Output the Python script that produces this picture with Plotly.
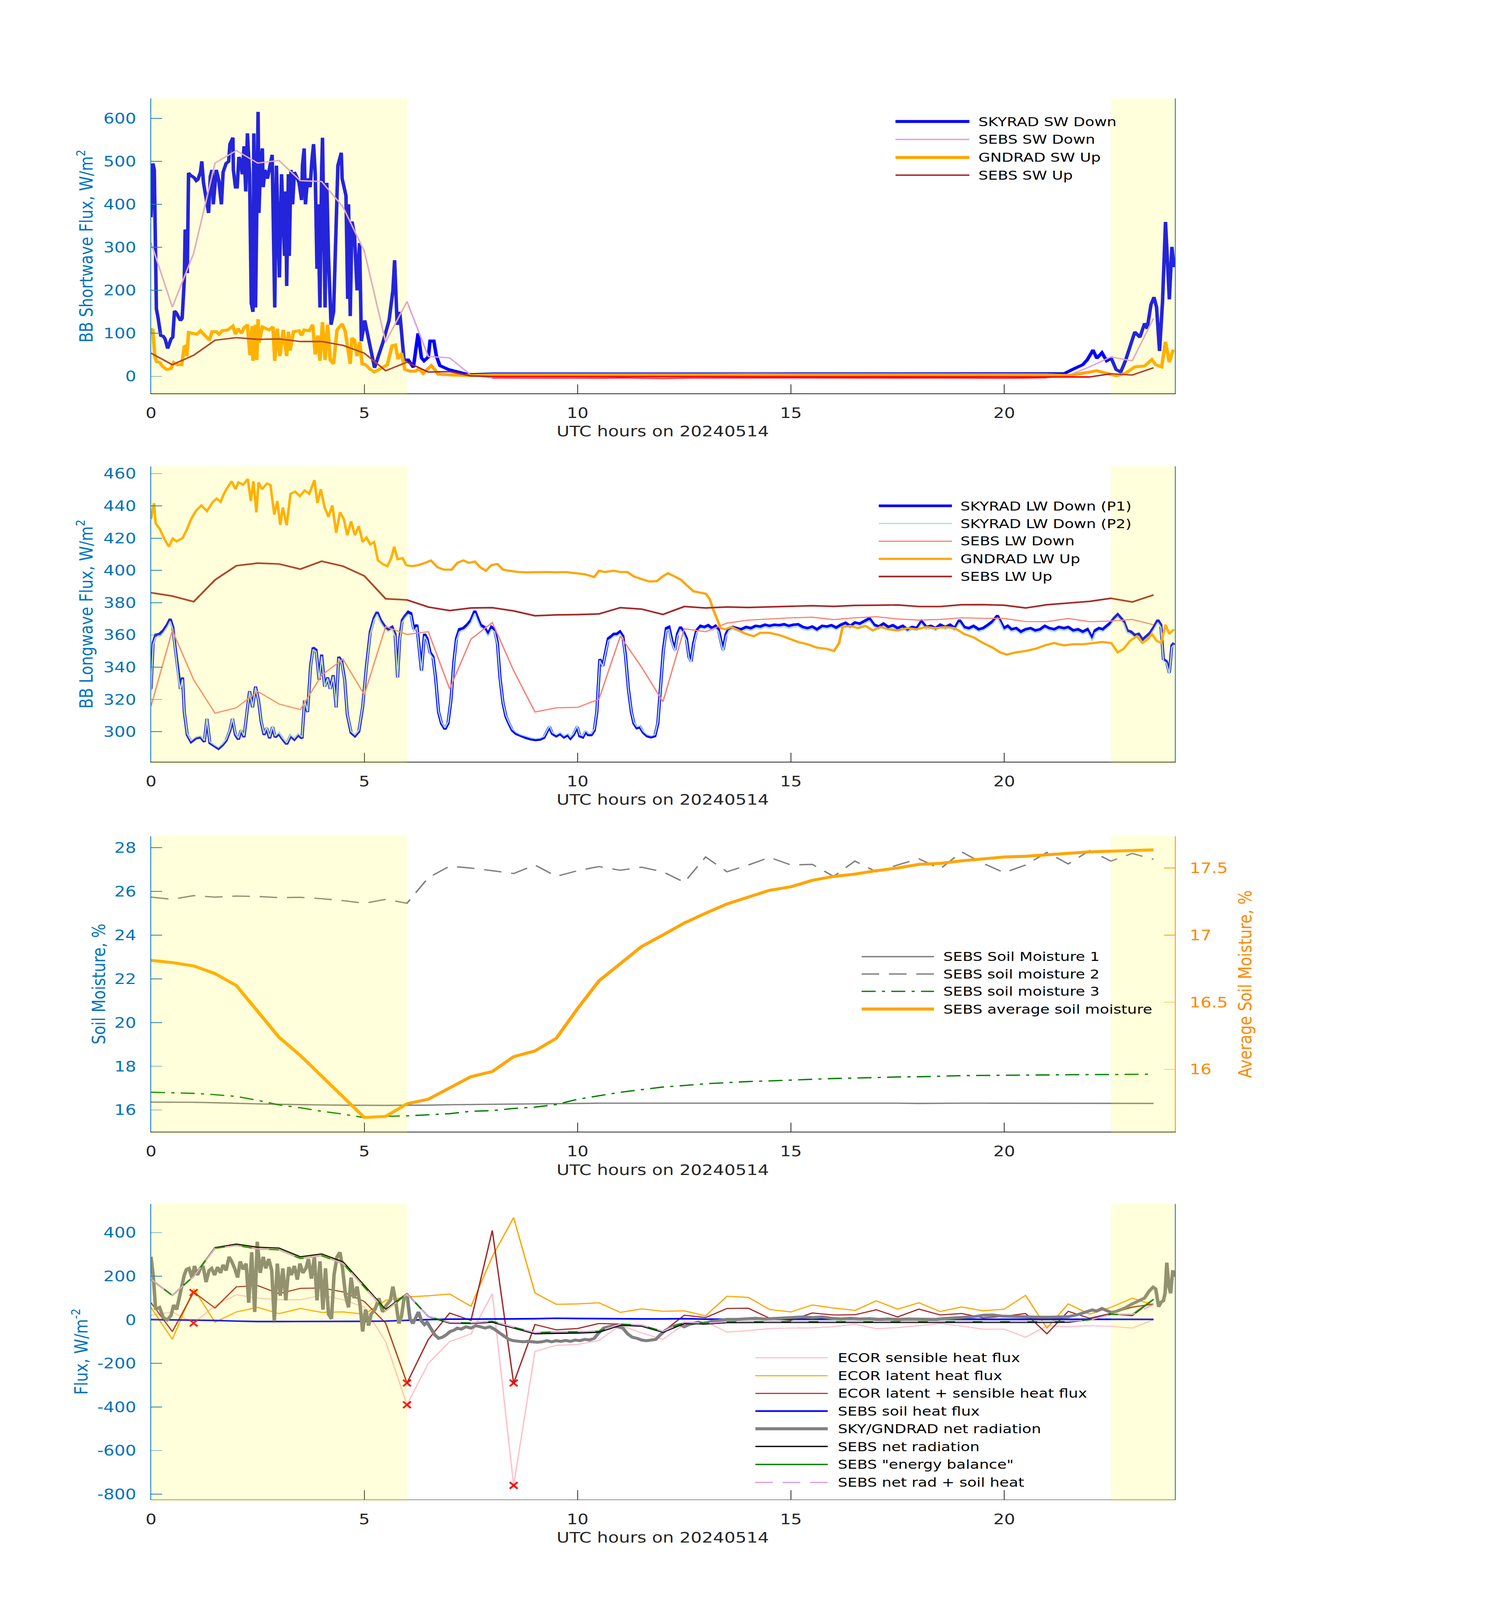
import plotly.graph_objects as go

# ---------------- data ----------------
# half-hourly SEBS / ECOR / soil time stamps, UTC hours
sebs_t = [0.0, 0.5, 1.0, 1.5, 2.0, 2.5, 3.0, 3.5, 4.0, 4.5, 5.0, 5.5, 6.0, 6.5, 7.0, 7.5,
          8.0, 8.5, 9.0, 9.5, 10.0, 10.5, 11.0, 11.5, 12.0, 12.5, 13.0, 13.5, 14.0, 14.5, 15.0, 15.5,
          16.0, 16.5, 17.0, 17.5, 18.0, 18.5, 19.0, 19.5, 20.0, 20.5, 21.0, 21.5, 22.0, 22.5, 23.0, 23.5]

# panel 1: shortwave
sw_t = [0.0, 0.045, 0.077, 0.126, 0.167, 0.228, 0.289, 0.33, 0.39, 0.43,
        0.47, 0.51, 0.55, 0.59, 0.64, 0.69, 0.73, 0.78, 0.80, 0.83,
        0.85, 0.88, 0.92, 1.01, 1.06, 1.10, 1.16, 1.19, 1.23, 1.27,
        1.32, 1.35, 1.39, 1.43, 1.46, 1.53, 1.59, 1.65, 1.69, 1.76,
        1.82, 1.85, 1.92, 1.93, 1.98, 2.02, 2.06, 2.10, 2.14, 2.18,
        2.22, 2.26, 2.31, 2.35, 2.39, 2.41, 2.45, 2.51, 2.53, 2.57,
        2.61, 2.63, 2.67, 2.73, 2.79, 2.84, 2.90, 2.94, 3.01, 3.06,
        3.13, 3.16, 3.18, 3.22, 3.24, 3.28, 3.32, 3.36, 3.43, 3.47,
        3.53, 3.55, 3.59, 3.62, 3.67, 3.73, 3.77, 3.81, 3.85, 3.89,
        3.91, 3.96, 4.00, 4.02, 4.08, 4.12, 4.16, 4.22, 4.28, 4.38,
        4.46, 4.48, 4.57, 4.59, 4.61, 4.63, 4.67, 4.71, 4.77, 4.83,
        4.89, 4.91, 4.93, 5.01, 5.10, 5.24, 5.34, 5.44, 5.58, 5.67,
        5.71, 5.77, 5.83, 5.93, 6.03, 6.15, 6.26, 6.34, 6.40, 6.50,
        6.54, 6.63, 6.69, 6.77, 6.97, 7.20, 7.40, 7.52, 8.0, 9.0,
        10.0, 11.0, 12.0, 13.0, 14.0, 15.0, 16.0, 17.0, 18.0, 19.0,
        20.0, 21.0, 21.4, 21.6, 21.84, 21.95, 22.08, 22.17, 22.29, 22.4,
        22.51, 22.62, 22.73, 22.84, 22.95, 23.06, 23.18, 23.29, 23.35, 23.44,
        23.51, 23.57, 23.64, 23.71, 23.78, 23.87, 23.93, 23.98]
skyrad_sw_dn = [370, 495, 480, 157, 135, 95, 93, 87, 65, 78,
                87, 91, 152, 148, 140, 130, 135, 223, 341, 335,
                240, 473, 468, 462, 455, 458, 475, 500, 450, 430,
                400, 380, 465, 480, 400, 480, 455, 400, 475, 495,
                500, 540, 555, 480, 440, 440, 510, 500, 470, 535,
                430, 565, 470, 170, 150, 565, 160, 615, 380, 500,
                530, 440, 480, 460, 490, 515, 160, 490, 230, 470,
                280, 430, 210, 470, 280, 480, 400, 475, 460, 450,
                410, 490, 530, 400, 460, 440, 500, 540, 470, 250,
                400, 160, 480, 555, 160, 450, 280, 120, 150, 490,
                520, 460, 420, 200, 180, 400, 140, 360, 330, 200,
                310, 200, 82, 130, 85, 20, 50, 80, 130, 200,
                270, 120, 150, 38, 38, 21, 100, 43, 36, 45,
                82, 82, 47, 25, 16, 10, 5, 4, 5.5, 5.5,
                5.5, 5.5, 5.5, 5.5, 5.5, 5.5, 5.5, 5.5, 5.5, 5.5,
                5.5, 5.5, 6, 16, 27, 39, 61, 42, 55, 36,
                42, 16, 10, 36, 68, 103, 91, 123, 111, 167,
                184, 161, 59, 173, 359, 179, 301, 254]

gsw_t = [0.01, 0.04, 0.09, 0.13, 0.21, 0.27, 0.37, 0.47, 0.53, 0.62,
         0.72, 0.78, 0.82, 0.84, 0.88, 1.02, 1.08, 1.16, 1.23, 1.31,
         1.37, 1.43, 1.53, 1.59, 1.67, 1.80, 1.92, 1.98, 2.04, 2.12,
         2.18, 2.26, 2.32, 2.37, 2.39, 2.45, 2.48, 2.51, 2.53, 2.61,
         2.67, 2.77, 2.86, 2.90, 2.96, 3.02, 3.10, 3.18, 3.22, 3.26,
         3.34, 3.47, 3.53, 3.59, 3.71, 3.79, 3.85, 3.91, 3.96, 4.02,
         4.08, 4.14, 4.20, 4.28, 4.36, 4.48, 4.55, 4.61, 4.67, 4.71,
         4.77, 4.83, 4.89, 4.95, 5.03, 5.14, 5.24, 5.38, 5.54, 5.65,
         5.73, 5.79, 5.87, 5.95, 6.07, 6.20, 6.28, 6.38, 6.50, 6.57,
         6.65, 6.73, 7.08, 7.48, 8.0, 9.0, 10.0, 11.0, 12.0, 13.0,
         14.0, 15.0, 16.0, 17.0, 18.0, 19.0, 20.0, 21.0, 21.5, 21.95,
         22.17, 22.4, 22.62, 22.84, 23.06, 23.29, 23.46, 23.55, 23.69, 23.78,
         23.87, 23.96]
gndrad_sw_up = [108, 110, 47, 34, 32, 23, 16, 18, 32, 27,
                27, 69, 71, 47, 102, 100, 98, 106, 98, 89,
                84, 104, 104, 98, 106, 108, 117, 98, 111, 100,
                113, 120, 49, 117, 36, 120, 38, 133, 78, 115,
                113, 108, 115, 36, 111, 47, 108, 47, 104, 60,
                104, 106, 95, 108, 106, 120, 51, 95, 36, 126,
                38, 120, 38, 29, 108, 122, 106, 73, 29, 89,
                84, 47, 80, 29, 27, 16, 10, 18, 27, 71,
                73, 40, 54, 16, 12, 12, 18, 7, 20, 25,
                16, 5, 3, 2, 3.5, 3.2, 3.8, 3.4, 3.6, 3.5,
                3.9, 3.6, 3.7, 3.4, 3.8, 3.5, 3.7, 3.6, 2, 9,
                13, 7, 1, 7, 22, 24, 39, 27, 22, 80,
                33, 62]

sebs_sw_dn = [311, 161, 286, 496, 525, 496, 502, 455, 453, 394,
              291, 80, 174, 46, 43, 3, -4.0, -4.2, -4.5, -4.6,
              -4.6, -4.5, -3.8, -4.3, -5.2, -4.2, -4.0, -4.0, -3.9, -3.8,
              -3.8, -3.7, -3.8, -4.0, -4.4, -4.2, -4.0, -4.1, -4.3, -4.3,
              -4.8, -4.2, -3.5, 2, 22, 45, 36, 135]
sebs_sw_up = [54, 27, 49, 84, 90, 86, 87, 81, 81, 72,
              54, 13, 33, 10, 11, 1, -0.6, -0.8, -0.9, -1.0,
              -1.0, -0.9, -0.8, -0.8, -1.0, -0.9, -0.8, -0.8, -0.7, -0.7,
              -0.8, -0.8, -0.7, -0.8, -0.9, -0.8, -0.8, -0.9, -0.9, -0.8,
              -1.0, -0.9, -0.8, -1.2, -1.5, 6, 3, 20]

# panel 2: longwave
lw_t = [0.0, 0.05, 0.11, 0.2, 0.29, 0.38, 0.45, 0.51, 0.58, 0.65,
        0.69, 0.74, 0.78, 0.85, 0.94, 1.05, 1.16, 1.25, 1.31, 1.38,
        1.49, 1.58, 1.67, 1.76, 1.85, 1.91, 1.98, 2.05, 2.11, 2.18,
        2.25, 2.31, 2.38, 2.45, 2.52, 2.58, 2.65, 2.71, 2.78, 2.85,
        2.91, 3.0, 3.09, 3.18, 3.27, 3.36, 3.45, 3.54, 3.6, 3.67,
        3.74, 3.8, 3.87, 3.94, 4.0, 4.07, 4.14, 4.2, 4.27, 4.34,
        4.4, 4.47, 4.54, 4.6, 4.69, 4.78, 4.87, 4.96, 5.05, 5.14,
        5.23, 5.3, 5.38, 5.47, 5.56, 5.65, 5.72, 5.78, 5.83, 5.89,
        5.96, 6.03, 6.09, 6.16, 6.23, 6.29, 6.34, 6.41, 6.47, 6.54,
        6.61, 6.67, 6.74, 6.81, 6.89, 6.96, 7.03, 7.1, 7.16, 7.23,
        7.32, 7.41, 7.5, 7.59, 7.65, 7.72, 7.81, 7.9, 7.98, 8.05,
        8.12, 8.18, 8.25, 8.32, 8.39, 8.47, 8.56, 8.67, 8.78, 8.9,
        9.01, 9.12, 9.21, 9.28, 9.34, 9.41, 9.5, 9.59, 9.68, 9.77,
        9.83, 9.9, 9.99, 10.05, 10.12, 10.19, 10.25, 10.32, 10.39, 10.45,
        10.52, 10.59, 10.65, 10.72, 10.79, 10.85, 10.92, 10.99, 11.06, 11.12,
        11.19, 11.26, 11.32, 11.39, 11.46, 11.54, 11.63, 11.72, 11.81, 11.88,
        11.94, 12.01, 12.08, 12.14, 12.21, 12.28, 12.34, 12.41, 12.48, 12.55,
        12.61, 12.66, 12.72, 12.79, 12.88, 12.97, 13.06, 13.15, 13.23, 13.3,
        13.37, 13.41, 13.48, 13.55, 13.63, 13.72, 13.83, 13.95, 14.06, 14.17,
        14.28, 14.39, 14.5, 14.61, 14.73, 14.84, 14.95, 15.06, 15.17, 15.28,
        15.39, 15.5, 15.61, 15.73, 15.84, 15.95, 16.06, 16.17, 16.28, 16.39,
        16.5, 16.61, 16.73, 16.84, 16.95, 17.06, 17.17, 17.28, 17.39, 17.5,
        17.62, 17.73, 17.84, 17.95, 18.06, 18.17, 18.28, 18.39, 18.5, 18.62,
        18.73, 18.84, 18.95, 19.06, 19.17, 19.28, 19.4, 19.5, 19.62, 19.73,
        19.84, 19.9, 19.99, 20.08, 20.17, 20.28, 20.39, 20.5, 20.62, 20.73,
        20.84, 20.95, 21.06, 21.17, 21.28, 21.4, 21.5, 21.62, 21.73, 21.84,
        21.95, 22.06, 22.13, 22.22, 22.31, 22.4, 22.49, 22.58, 22.66, 22.73,
        22.8, 22.88, 22.97, 23.06, 23.15, 23.24, 23.33, 23.42, 23.51, 23.6,
        23.67, 23.73, 23.8, 23.87, 23.93, 23.98]
skyrad_lw_p1 = [326.5, 355, 360, 360.6, 362.8, 366.3, 369.9, 364.9, 349.2, 332.2,
                326.5, 333.6, 312.2, 298, 293.7, 295.9, 296.6, 293.7, 308, 293,
                290.9, 289.5, 291.6, 294.5, 300.8, 308, 298, 295.2, 300.8, 296.6,
                312.2, 325.1, 315.1, 327.9, 319.4, 306.5, 298, 302.3, 295.9, 303,
                296.6, 298.7, 295.2, 292.3, 297.3, 295.2, 298, 295.9, 319.4, 312.2,
                340.7, 352.1, 350.7, 332.2, 347.8, 327.9, 333.6, 326.5, 335, 315.1,
                346.4, 343.6, 332.2, 310.8, 299.4, 297.3, 300.1, 315.1, 340.7, 362,
                370.6, 374.2, 369.2, 365.6, 363.5, 364.9, 360.6, 333.6, 357.8, 369.2,
                372, 374.2, 373.4, 363.5, 366.3, 350.7, 337.9, 360.6, 357.8, 349.2,
                346.4, 333.6, 312.2, 305.1, 301.6, 305.1, 319.4, 343.6, 357.8, 363.5,
                364.2, 366.3, 369.2, 374.9, 370.6, 366.3, 364.9, 360.6, 364.9, 363.5,
                355, 333.6, 317.9, 309.4, 305.1, 300.8, 298.7, 297.3, 296.3, 295.4,
                294.9, 295.2, 296.3, 300.1, 303, 298.7, 297.3, 298.7, 296.6, 298,
                295.9, 298, 303, 297.3, 296.6, 300.1, 298, 298, 300.8, 312.2,
                345, 340.7, 349.2, 357.8, 359.2, 360.6, 360.6, 362, 359.2, 347.8,
                326.5, 312.2, 305.1, 302.3, 303, 299.4, 297.3, 296.6, 297.3, 305.1,
                326.5, 350.7, 364.2, 364.9, 356.4, 350.7, 360.6, 364.9, 362, 357.8,
                346.4, 343.6, 355, 362.8, 365.6, 364.9, 366, 364.2, 365.6, 363.5,
                355, 350.7, 360.6, 364.2, 364.9, 364.2, 363.5, 364.9, 364.2, 365.6,
                365.2, 366.3, 365.6, 366.3, 366, 366.6, 365.6, 366.3, 366.6, 364.9,
                364.2, 365.2, 363.5, 365.6, 365.2, 366, 364.6, 366.3, 367.5, 365.6,
                367.7, 367, 368.5, 370.3, 366.3, 365.2, 367, 364.9, 366, 364.2,
                365.6, 363.5, 364.9, 364.2, 368.5, 364.9, 365.6, 364.2, 366.3, 364.9,
                366.3, 364.2, 369.2, 364.9, 364.2, 365.6, 363.5, 364.2, 366.3, 368.5,
                372, 369.2, 364.2, 365.6, 363.5, 364.2, 362, 363.5, 364.2, 362.8,
                363.5, 365.6, 364.2, 363.5, 364.9, 364.2, 364.9, 362.8, 363.5, 362,
                363.5, 357.8, 362.8, 364.2, 363.5, 365.6, 367.5, 370.6, 372.7, 370.6,
                368.5, 362.8, 362, 359.9, 360.6, 357, 359.2, 361.3, 364.9, 369.2,
                366.3, 345, 343.6, 336.5, 353.5, 355]
skyrad_lw_p2 = [325, 354, 358.5, 359, 361.3, 364.8, 368.4, 363.4, 348, 331.5,
                326, 332.5, 312.5, 298.8, 294.5, 296.7, 297.4, 294.5, 308.5, 293.8,
                291.7, 290.3, 292.4, 295.3, 301.5, 308.6, 298.8, 296, 301.5, 297.4,
                312.5, 324.8, 315.3, 327.4, 319.3, 307, 298.8, 303, 296.7, 303.6,
                297.4, 299.5, 296, 293.1, 298.1, 296, 298.8, 296.7, 319.5, 312.6,
                339.8, 351, 349.6, 331.8, 346.7, 327.6, 333, 326.3, 334.3, 315.3,
                345.4, 342.7, 331.6, 311.2, 300.2, 298.1, 300.9, 315.5, 339.8, 360.6,
                369.2, 372.8, 367.8, 364.1, 362, 363.4, 359.2, 333.2, 356.5, 367.8,
                370.6, 372.8, 372, 362, 364.8, 349.6, 337.4, 359.2, 356.5, 348.1,
                345.5, 333.2, 312.6, 305.8, 302.4, 305.8, 319.6, 342.7, 356.5, 362,
                362.7, 364.8, 367.7, 373.4, 369.1, 364.8, 363.4, 359.2, 363.4, 362,
                354, 333.3, 318.3, 310, 305.8, 301.6, 299.5, 298.1, 297.1, 296.2,
                295.7, 296, 297.1, 300.9, 303.7, 299.5, 298.1, 299.5, 297.4, 298.8,
                296.7, 298.8, 303.7, 298.1, 297.4, 300.9, 298.8, 298.8, 301.6, 312.6,
                344.2, 340.1, 348.2, 356.5, 357.8, 359.2, 359.2, 360.6, 357.9, 347,
                326.3, 312.6, 305.8, 303.1, 303.7, 300.2, 298.1, 297.4, 298.1, 305.8,
                326.3, 349.6, 362.8, 363.4, 355.2, 349.6, 359.2, 363.4, 360.6, 356.5,
                345.6, 342.9, 353.8, 361.4, 364.1, 363.4, 364.5, 362.7, 364.1, 362,
                353.8, 349.6, 359.1, 362.7, 363.4, 362.7, 362, 363.4, 362.7, 364.1,
                363.7, 364.8, 364.1, 364.8, 364.5, 365.1, 364.1, 364.8, 365.1, 363.4,
                362.7, 363.7, 362, 364.1, 363.7, 364.5, 363.1, 364.8, 366, 364.1,
                366.2, 365.5, 367, 368.8, 364.8, 363.7, 365.5, 363.4, 364.5, 362.7,
                364.1, 362, 363.4, 362.7, 367, 363.4, 364.1, 362.7, 364.8, 363.4,
                364.8, 362.7, 367.7, 363.4, 362.7, 364.1, 362, 362.7, 364.8, 367,
                370.5, 367.7, 362.7, 364.1, 362, 362.7, 360.5, 362, 362.7, 361.3,
                362, 364.1, 362.7, 362, 363.4, 362.7, 363.4, 361.3, 362, 360.5,
                362, 356.3, 361.3, 362.7, 362, 364.1, 366, 369.1, 371.2, 369.1,
                367, 361.3, 360.5, 358.4, 359.1, 355.5, 357.7, 359.8, 363.4, 367.7,
                364.8, 344, 342.5, 335.8, 352.4, 353.8]

glw_t = [0.0, 0.07, 0.11, 0.2, 0.31, 0.42, 0.51, 0.6, 0.74, 0.83,
         0.94, 1.05, 1.18, 1.31, 1.45, 1.54, 1.63, 1.71, 1.8, 1.89,
         1.98, 2.05, 2.16, 2.27, 2.34, 2.4, 2.47, 2.52, 2.6, 2.72,
         2.8, 2.89, 2.96, 3.03, 3.09, 3.18, 3.27, 3.38, 3.49, 3.6,
         3.71, 3.83, 3.9, 3.98, 4.07, 4.16, 4.25, 4.34, 4.43, 4.52,
         4.6, 4.69, 4.78, 4.87, 4.96, 5.05, 5.14, 5.23, 5.32, 5.43,
         5.54, 5.63, 5.7, 5.78, 5.9, 5.98, 6.12, 6.27, 6.43, 6.56,
         6.72, 6.87, 7.05, 7.18, 7.32, 7.45, 7.59, 7.72, 7.85, 7.98,
         8.12, 8.25, 8.39, 8.61, 8.83, 9.05, 9.28, 9.5, 9.72, 9.94,
         10.17, 10.39, 10.5, 10.65, 10.83, 11.01, 11.17, 11.32, 11.5, 11.68,
         11.86, 11.99, 12.12, 12.28, 12.43, 12.57, 12.72, 12.88, 13.01, 13.1,
         13.19, 13.28, 13.35, 13.46, 13.61, 13.77, 13.95, 14.13, 14.28, 14.5,
         14.73, 14.95, 15.17, 15.39, 15.61, 15.84, 16.01, 16.13, 16.21, 16.39,
         16.57, 16.75, 16.92, 17.1, 17.28, 17.5, 17.73, 17.95, 18.17, 18.39,
         18.62, 18.84, 19.06, 19.28, 19.5, 19.73, 19.9, 20.06, 20.28, 20.5,
         20.73, 20.95, 21.17, 21.4, 21.62, 21.84, 22.06, 22.29, 22.51, 22.66,
         22.8, 22.95, 23.11, 23.24, 23.35, 23.46, 23.57, 23.68, 23.78, 23.87,
         23.98]
gndrad_lw_up = [431.8, 441.7, 429, 426, 419.7, 414.7, 419.7, 418, 420, 424.7,
                431.8, 436.8, 440.3, 436.8, 442.5, 444.6, 442.5, 447.5, 451.7, 455.3,
                450.3, 454.6, 453.1, 456.7, 443, 455.3, 436, 454.6, 450.3, 453.9,
                453, 434.6, 443, 428.2, 439, 428, 447.5, 448.9, 446, 449.6,
                447.5, 456, 441.8, 450.3, 439, 433.2, 440.3, 423.3, 436.1, 431.8,
                421.8, 430.4, 421.8, 427.5, 417.6, 420.4, 416.1, 417.6, 406.2, 404,
                402.6, 407.6, 414.7, 406.9, 407.6, 403.3, 402.6, 403.3, 404.7, 406.2,
                401.9, 400.5, 400.5, 404.7, 406.2, 404.7, 405.5, 401.9, 399.8, 403.3,
                404, 400.5, 399.8, 399, 398.8, 399, 399, 398.8, 399, 398.3,
                397.6, 395.9, 399.8, 399, 399.8, 399, 399, 396.2, 394.8, 393.1,
                393.4, 396.2, 398.3, 396.2, 394.1, 390.5, 387, 386.2, 385.5, 382,
                374.9, 369.2, 364.2, 363.5, 364.9, 362.8, 360.6, 359.2, 361.3, 361.3,
                359.9, 357.8, 355.6, 354.2, 352.1, 351.4, 350, 355, 364.9, 365.6,
                364.2, 365.6, 362.8, 364.9, 363.5, 362.8, 364.2, 363.5, 364.9, 364.2,
                364.9, 364.2, 360.6, 358.5, 355, 352.1, 349.2, 347.8, 349.2, 350,
                351.4, 353.5, 355, 353.5, 354.2, 354.2, 355, 355.6, 355, 349.2,
                351.4, 356.4, 359.2, 355, 357, 360.6, 356.4, 355, 366.3, 360.6,
                363.5]

sebs_lw_dn = [315.8, 362.8, 332.2, 311.5, 314.8, 325.0, 317.2, 313.7, 335.0, 345.0,
              322.9, 365.2, 360.3, 362.0, 326.5, 357.4, 367.7, 337.9, 312.2, 314.8,
              315.1, 320.1, 359.2, 340.0, 318.6, 363.8, 362.0, 367.3, 369.2, 369.9,
              370.6, 371.0, 369.5, 370.6, 371.3, 369.9, 369.2, 369.6, 370.6, 370.3,
              370.2, 368.3, 368.2, 370.2, 368.2, 368.6, 369.6, 366.3]
sebs_lw_up = [386.2, 384.1, 380.6, 394.1, 402.9, 404.5, 404.0, 400.8, 405.7, 402.6,
              396.6, 382.4, 381.7, 377.3, 375.1, 376.7, 376.9, 374.9, 371.9, 372.4,
              372.6, 373.0, 376.9, 376.0, 372.7, 377.6, 376.7, 377.3, 377.0, 377.4,
              377.7, 378.1, 377.7, 378.3, 378.4, 378.6, 377.6, 377.6, 378.7, 378.8,
              378.4, 376.7, 378.7, 379.7, 380.8, 382.7, 380.4, 384.8]

# panel 3: soil moisture, %
soil_m1 = [16.36, 16.36, 16.35, 16.33, 16.30, 16.28, 16.26, 16.24, 16.23, 16.22,
           16.21, 16.21, 16.22, 16.22, 16.24, 16.25, 16.27, 16.27, 16.28, 16.29,
           16.30, 16.31, 16.31, 16.31, 16.31, 16.32, 16.31, 16.32, 16.31, 16.31,
           16.31, 16.32, 16.31, 16.31, 16.31, 16.31, 16.30, 16.31, 16.31, 16.31,
           16.31, 16.30, 16.30, 16.30, 16.30, 16.30, 16.30, 16.30]
soil_m2 = [25.74, 25.64, 25.81, 25.74, 25.79, 25.77, 25.72, 25.73, 25.67, 25.58,
           25.46, 25.64, 25.46, 26.63, 27.16, 27.07, 26.95, 26.82, 27.21, 26.69,
           26.95, 27.14, 26.97, 27.11, 26.9, 26.42, 27.58, 26.9, 27.21, 27.56,
           27.21, 27.24, 26.69, 27.39, 26.9, 27.21, 27.5, 27.03, 27.81, 27.29,
           26.86, 27.21, 27.79, 27.26, 27.87, 27.39, 27.74, 27.47]
soil_m3 = [16.81, 16.79, 16.76, 16.70, 16.62, 16.44, 16.23, 16.10, 15.94, 15.81,
           15.65, 15.71, 15.73, 15.78, 15.83, 15.94, 15.97, 16.07, 16.13, 16.25,
           16.49, 16.65, 16.81, 16.93, 17.05, 17.12, 17.20, 17.25, 17.30, 17.33,
           17.37, 17.40, 17.44, 17.46, 17.49, 17.51, 17.52, 17.55, 17.57, 17.58,
           17.59, 17.60, 17.61, 17.61, 17.62, 17.62, 17.63, 17.64]
soil_avg = [16.812, 16.795, 16.77, 16.713, 16.624, 16.436, 16.239, 16.103, 15.949, 15.794,
            15.641, 15.649, 15.743, 15.777, 15.863, 15.945, 15.983, 16.094, 16.137, 16.231,
            16.453, 16.659, 16.787, 16.915, 17.001, 17.09, 17.163, 17.232, 17.283, 17.334,
            17.36, 17.408, 17.437, 17.454, 17.48, 17.5, 17.527, 17.534, 17.553, 17.565,
            17.582, 17.587, 17.599, 17.606, 17.62, 17.625, 17.628, 17.635]

# panel 4: surface energy fluxes, W/m2
ecor_h = [21, 36, -15, 65, 115, 100, 92, 92, 112, 92,
          58, -100, -390, -200, -100, -65, 120, -760, -145, -117,
          -113, -95, -25, -60, -90, -20, -8, -56, -50, -40,
          -38, -37, -32, -20, -41, -36, -27, -17, -29, -43,
          -43, -80, -28, -32, -27, -30, -38, 0]
ecor_le = [57, -90, 142, -11, 36, 57, 28, 52, 34, 36,
           26, 89, 105, 110, 118, 62, 290, 469, 123, 71,
           73, 78, 34, 50, 39, 41, 18, 108, 103, 47,
           36, 68, 54, 43, 87, 49, 78, 38, 59, 41,
           49, 112, -38, 73, 26, 57, 99, 68]
ecor_sum = [78, -54, 127, 54, 151, 157, 120, 144, 146, 128,
            84, -15, -290, -90, 31, -3, 410, -291, -22, -46,
            -40, -17, -20, -25, -55, 21, 10, 52, 53, 7,
            -2, 31, 22, 23, 46, 13, 49, 22, 29, 9,
            16, 29, -64, 39, 7, 29, 58, 72]
sebs_g = [1, 0, -1, -3, -6, -8, -8, -8, -8, -8,
          -7, -6, -2, 1, 3, 3, 4, 4, 5, 7,
          6, 5, 5, 4, 4, 5, 3, 3, 3, 3,
          3, 3, 3, 3, 2, 3, 3, 2, 2, 2,
          2, 2, 2, 2, 2, 2, 2, 2]
sebs_rnet = [185, 112, 200, 331, 347, 333, 329, 289, 302, 266,
             157, 47, 120, 15, -15, -17, -11, -38, -64, -62,
             -61, -57, -25, -29, -57, -17, -19, -13, -12, -12,
             -12, -12, -12, -12, -13, -12, -12, -12, -12, -12,
             -13, -12, -12, -11, 1, 26, 20, 94]
sebs_ebal = [186, 112, 199, 328, 341, 325, 321, 281, 294, 258,
             150, 41, 118, 16, -12, -14, -7, -34, -59, -55,
             -55, -52, -20, -25, -53, -12, -16, -9, -8, -8,
             -8, -8, -8, -8, -9, -8, -8, -8, -8, -8,
             -9, -8, -8, -7, 0, 25, 24, 94]
sebs_rg = [186, 112, 199, 328, 341, 325, 321, 281, 294, 258,
           150, 41, 118, 16, -12, -14, -7, -34, -59, -55,
           -55, -52, -20, -24, -53, -12, -16, -9, -8, -8,
           -8, -8, -8, -8, -9, -8, -8, -8, -8, -8,
           -9, -8, -8, -7, -1, 25, 24, 70]

net_t = [0.0, 0.05, 0.11, 0.2, 0.29, 0.38, 0.47, 0.53, 0.6, 0.69,
         0.78, 0.83, 0.89, 0.96, 1.02, 1.09, 1.16, 1.22, 1.29, 1.36,
         1.42, 1.49, 1.56, 1.63, 1.69, 1.76, 1.83, 1.89, 1.96, 2.03,
         2.09, 2.16, 2.23, 2.29, 2.36, 2.43, 2.49, 2.56, 2.63, 2.69,
         2.76, 2.83, 2.89, 2.96, 3.03, 3.09, 3.16, 3.23, 3.29, 3.36,
         3.43, 3.49, 3.56, 3.63, 3.69, 3.76, 3.83, 3.89, 3.96, 4.03,
         4.09, 4.16, 4.23, 4.29, 4.36, 4.43, 4.49, 4.56, 4.63, 4.69,
         4.76, 4.83, 4.9, 4.96, 5.03, 5.1, 5.16, 5.25, 5.34, 5.43,
         5.52, 5.61, 5.67, 5.74, 5.81, 5.87, 5.94, 6.01, 6.07, 6.14,
         6.21, 6.27, 6.34, 6.41, 6.47, 6.56, 6.65, 6.74, 6.83, 6.92,
         7.01, 7.1, 7.18, 7.27, 7.38, 7.5, 7.61, 7.72, 7.83, 7.94,
         8.05, 8.16, 8.28, 8.39, 8.5, 8.61, 8.72, 8.83, 8.94, 9.05,
         9.17, 9.28, 9.39, 9.5, 9.61, 9.72, 9.83, 9.94, 10.05, 10.17,
         10.28, 10.39, 10.5, 10.61, 10.72, 10.83, 10.94, 11.06, 11.17, 11.28,
         11.39, 11.5, 11.61, 11.72, 11.83, 11.94, 12.06, 12.17, 12.28, 12.39,
         12.5, 12.61, 12.72, 12.83, 12.94, 13.06, 13.17, 13.28, 13.39, 13.5,
         13.72, 13.95, 14.17, 14.39, 14.61, 14.84, 15.06, 15.28, 15.5, 15.73,
         15.95, 16.17, 16.39, 16.61, 16.84, 17.06, 17.28, 17.5, 17.73, 17.95,
         18.17, 18.39, 18.62, 18.84, 19.06, 19.28, 19.5, 19.73, 19.95, 20.17,
         20.39, 20.62, 20.84, 21.06, 21.28, 21.5, 21.73, 21.9, 22.06, 22.17,
         22.29, 22.4, 22.51, 22.62, 22.73, 22.84, 22.95, 23.06, 23.18, 23.29,
         23.4, 23.49, 23.55, 23.62, 23.68, 23.73, 23.77, 23.81, 23.86, 23.9,
         23.95, 23.99]
skygnd_net = [289, 205, 47, 57, 10, -1, 20, 68, 47, 131,
              205, 231, 236, 194, 247, 205, 236, 247, 173, 226,
              236, 205, 242, 215, 252, 226, 289, 268, 236, 194,
              268, 231, 258, 78, 310, 36, 358, 215, 289, 236,
              279, 226, -6, 258, 110, 236, 89, 242, 205, 247,
              184, 258, 215, 236, 279, 189, 289, 89, 268, 47,
              236, 26, 4, 205, 289, 310, 236, 110, 57, 194,
              99, 152, 68, -54, 47, -27, 26, 47, 99, 36,
              68, 89, 152, 78, -17, 15, 110, 99, 4, -17,
              15, 36, -6, -22, -11, -38, -69, -85, -80, -69,
              -54, -48, -38, -43, -32, -38, -27, -32, -38, -32,
              -43, -59, -75, -90, -96, -99, -101, -99, -101, -103,
              -101, -96, -101, -96, -99, -95, -99, -93, -96, -90,
              -93, -85, -59, -38, -32, -27, -32, -38, -64, -80,
              -85, -93, -96, -93, -90, -69, -48, -38, -27, -22,
              -32, -22, -17, -11, -17, -11, -6, -4, -1, 2,
              2, 4, 7, 4, 7, 10, 12, 13, 10, 13,
              7, 4, 7, 4, 5, 2, 4, 2, 4, 4,
              4, 2, 6, 9, 10, 14, 21, 22, 17, 15,
              14, 14, 12, 12, 14, 14, 24, 34, 45, 40,
              52, 42, 34, 38, 45, 55, 68, 80, 90, 100,
              132, 150, 142, 60, 82, 87, 122, 262, 152, 122,
              227, 197]

# flagged ECOR values (red crosses)
flag_t = [1.0, 1.0, 6.0, 6.0, 8.5, 8.5]
flag_v = [125, -15, -290, -390, -290, -760]

# shaded (daylight) periods, hours
shade_spans = [(0, 6), (22.5, 24)]

# ---------------- style ----------------
W, H = 3825, 4875
FONT = "DejaVu Sans"
AX_BLUE = "#0072BD"
AX_ORANGE = "#FF8800"
DARK = "#262626"
X_DOM = [374 / W, 3005 / W]
# panel (top, bottom) in pixels
PANELS = [(298, 1199), (1421, 2324), (2551, 3454), (3674, 4577)]


def px(x):
    return x / W


def py(y):
    return 1 - y / H


fig = go.Figure()


def line(x, y, color, width, n, dash="solid", yax=None):
    fig.add_trace(go.Scatter(
        x=x, y=y, mode="lines", showlegend=False, hoverinfo="skip",
        line=dict(color=color, width=width, dash=dash),
        xaxis="x" if n == 1 else f"x{n}",
        yaxis=yax or ("y" if n == 1 else f"y{n}"),
    ))


# panel 1
line(sw_t, skyrad_sw_dn, "#0000FF", 9, 1)
line(sebs_t, sebs_sw_dn, "#DDA0DD", 4, 1)
line(gsw_t, gndrad_sw_up, "#FFA500", 9, 1)
line(sebs_t, sebs_sw_up, "#A52A2A", 4.5, 1)
# negative SEBS readings drawn over in red
neg_dn = [(t, v) for t, v in zip(sebs_t, sebs_sw_dn) if v < 0]
neg_up = [(t, v) for t, v in zip(sebs_t, sebs_sw_up) if v < 0]
line([p[0] for p in neg_up], [p[1] for p in neg_up], "#FF0000", 4.5, 1)
line([p[0] for p in neg_dn], [p[1] for p in neg_dn], "#FF0000", 2, 1)

# panel 2
line(lw_t, skyrad_lw_p1, "#0000FF", 8, 2)
line(lw_t, skyrad_lw_p2, "#ADD8E6", 3.5, 2)
line(sebs_t, sebs_lw_dn, "#FA8072", 3.5, 2)
line(glw_t, gndrad_lw_up, "#FFA500", 6.5, 2)
line(sebs_t, sebs_lw_up, "#A52A2A", 5, 2)

# panel 3
DASH = "45px,25px"
DASHDOT = "36px,16px,8px,16px"
line(sebs_t, soil_m1, "#808080", 4, 3)
line(sebs_t, soil_m2, "#808080", 4, 3, dash=DASH)
line(sebs_t, soil_m3, "#008000", 4, 3, dash=DASHDOT)
line(sebs_t, soil_avg, "#FFA500", 9, 3, yax="y5")

# panel 4
line(sebs_t, ecor_h, "#FFC0CB", 3.5, 4)
line(sebs_t, ecor_le, "#FFA500", 3.5, 4)
line(sebs_t, ecor_sum, "#A52A2A", 3.5, 4)
line(sebs_t, sebs_g, "#0000FF", 5, 4)
line(net_t, skygnd_net, "#808080", 9, 4)
line(sebs_t, sebs_rnet, "#000000", 4, 4)
line(sebs_t, sebs_ebal, "#008000", 4, 4)
line(sebs_t, sebs_rg, "#DDA0DD", 4, 4, dash=DASH)
fig.add_trace(go.Scatter(
    x=flag_t, y=flag_v, mode="markers", showlegend=False, hoverinfo="skip",
    marker=dict(symbol="x-thin", size=20, color="#FF0000",
                line=dict(color="#FF0000", width=5)),
    xaxis="x4", yaxis="y4"))

# ---------------- axes ----------------
y_ranges = [[-40, 646], [281.3, 464.6], [15.0, 28.53], [-824.5, 532]]
y_ticks = [[0, 100, 200, 300, 400, 500, 600],
           [300, 320, 340, 360, 380, 400, 420, 440, 460],
           [16, 18, 20, 22, 24, 26, 28],
           [-800, -600, -400, -200, 0, 200, 400]]
tick_font = dict(family=FONT, size=44, color=AX_BLUE)

layout = dict(width=W, height=H, margin=dict(l=0, r=0, t=0, b=0),
              paper_bgcolor="white", plot_bgcolor="white",
              font=dict(family=FONT, size=44, color=DARK), showlegend=False)

for i, (top, bot) in enumerate(PANELS):
    n = i + 1
    sx = "" if n == 1 else str(n)
    layout[f"xaxis{sx}"] = dict(
        domain=X_DOM, range=[0, 24], anchor=f"y{sx}",
        tickvals=[0, 5, 10, 15, 20], ticks="inside", ticklen=28, tickwidth=2,
        tickcolor=DARK, showline=True, linecolor=DARK, linewidth=2,
        mirror=False, showgrid=False, zeroline=False, ticklabelstandoff=20,
        tickfont=dict(family=FONT, size=44, color=DARK))
    layout[f"yaxis{sx}"] = dict(
        domain=[py(bot), py(top)], range=y_ranges[i], anchor=f"x{sx}",
        tickvals=y_ticks[i], ticktext=[str(v) for v in y_ticks[i]],
        ticks="inside", ticklen=28, tickwidth=2, tickcolor=AX_BLUE,
        showline=True, linecolor=AX_BLUE, linewidth=2, mirror=(n != 3),
        showgrid=False, zeroline=False, ticklabelstandoff=27, tickfont=tick_font)

layout["yaxis5"] = dict(
    overlaying="y3", side="right", anchor="x3", range=[15.534, 17.737],
    tickvals=[16, 16.5, 17, 17.5], ticktext=["16", "16.5", "17", "17.5"],
    ticks="inside", ticklen=28, tickwidth=2, tickcolor=AX_ORANGE,
    showline=True, linecolor=AX_ORANGE, linewidth=2, showgrid=False,
    zeroline=False, ticklabelstandoff=27,
    tickfont=dict(family=FONT, size=44, color=AX_ORANGE))

fig.update_layout(**layout)

# daylight shading (semi-transparent yellow drawn over the data)
for n in range(1, 5):
    sx = "" if n == 1 else str(n)
    for x0, x1 in shade_spans:
        fig.add_shape(type="rect", xref=f"x{sx}", yref=f"y{sx} domain",
                      x0=x0, x1=x1, y0=-0.009, y1=1, layer="above",
                      fillcolor="rgba(255,255,0,0.14)", line=dict(width=0))

# ---------------- titles ----------------
annots = []
y_titles = ["BB Shortwave Flux, W/m<sup>2</sup>", "BB Longwave Flux, W/m<sup>2</sup>",
            "Soil Moisture, %", "Flux, W/m<sup>-2</sup>"]
y_title_x = [204, 204, 240, 192]
for i, (top, bot) in enumerate(PANELS):
    annots.append(dict(text=y_titles[i], x=px(y_title_x[i]), y=py((top + bot) / 2),
                       xref="paper", yref="paper", textangle=-90, showarrow=False,
                       xanchor="center", yanchor="middle",
                       font=dict(family=FONT, size=46, color=AX_BLUE)))
    annots.append(dict(text="UTC hours on 20240514", x=px((374 + 3005) / 2), y=py(bot + 116),
                       xref="paper", yref="paper", showarrow=False,
                       xanchor="center", yanchor="middle",
                       font=dict(family=FONT, size=45, color=DARK)))
annots.append(dict(text="Average Soil Moisture, %", x=px(3186), y=py((2551 + 3454) / 2),
                   xref="paper", yref="paper", textangle=-90, showarrow=False,
                   xanchor="center", yanchor="middle",
                   font=dict(family=FONT, size=46, color=AX_ORANGE)))

# ---------------- legends ----------------
legends = [
    (2287, 2477, 2498, [368, 423, 478, 532], [
        ("SKYRAD SW Down", "#0000FF", 9, "solid"),
        ("SEBS SW Down", "#DDA0DD", 4, "solid"),
        ("GNDRAD SW Up", "#FFA500", 9, "solid"),
        ("SEBS SW Up", "#A52A2A", 4.5, "solid")]),
    (2244, 2432, 2452, [1542, 1596, 1650, 1704, 1758], [
        ("SKYRAD LW Down (P1)", "#0000FF", 8, "solid"),
        ("SKYRAD LW Down (P2)", "#ADD8E6", 3.5, "solid"),
        ("SEBS LW Down", "#FA8072", 3.5, "solid"),
        ("GNDRAD LW Up", "#FFA500", 6.5, "solid"),
        ("SEBS LW Up", "#A52A2A", 5, "solid")]),
    (2200, 2386, 2408, [2919, 2972, 3025, 3079], [
        ("SEBS Soil Moisture 1", "#808080", 4, "solid"),
        ("SEBS soil moisture 2", "#808080", 4, DASH),
        ("SEBS soil moisture 3", "#008000", 4, DASHDOT),
        ("SEBS average soil moisture", "#FFA500", 9, "solid")]),
    (1927, 2113, 2137, [4144, 4199, 4253, 4307, 4361, 4415, 4470, 4525], [
        ("ECOR sensible heat flux", "#FFC0CB", 3.5, "solid"),
        ("ECOR latent heat flux", "#FFA500", 3.5, "solid"),
        ("ECOR latent + sensible heat flux", "#A52A2A", 3.5, "solid"),
        ("SEBS soil heat flux", "#0000FF", 5, "solid"),
        ("SKY/GNDRAD net radiation", "#808080", 9, "solid"),
        ("SEBS net radiation", "#000000", 4, "solid"),
        ("SEBS \"energy balance\"", "#008000", 4, "solid"),
        ("SEBS net rad + soil heat", "#DDA0DD", 4, DASH)]),
]
for x0, x1, xt, rows, items in legends:
    for yrow, (label, color, width, dash) in zip(rows, items):
        fig.add_shape(type="line", xref="paper", yref="paper",
                      x0=px(x0), x1=px(x1), y0=py(yrow), y1=py(yrow),
                      line=dict(color=color, width=width, dash=dash))
        annots.append(dict(text=label, x=px(xt), y=py(yrow), xref="paper", yref="paper",
                           showarrow=False, xanchor="left", yanchor="middle",
                           font=dict(family=FONT, size=39, color="#000000")))

fig.update_layout(annotations=annots)

# no page margin; if the visible window is shorter than the figure,
# fit the figure's height to it so the bottom panel stays on screen
fit_js = """
document.body.style.margin = '0px';
document.body.style.overflow = 'hidden';
var gd = document.getElementById('{plot_id}');
var vh = Math.min(window.innerHeight || %d, (window.screen && screen.height) || %d);
if (vh > 0 && vh < %d) {
    gd.style.transformOrigin = '0 0';
    gd.style.transform = 'scale(1,' + (vh / %d) + ')';
}
""" % (H, H, H, H)
fig.write_html("out.html", config={"displayModeBar": False}, post_script=fit_js)
